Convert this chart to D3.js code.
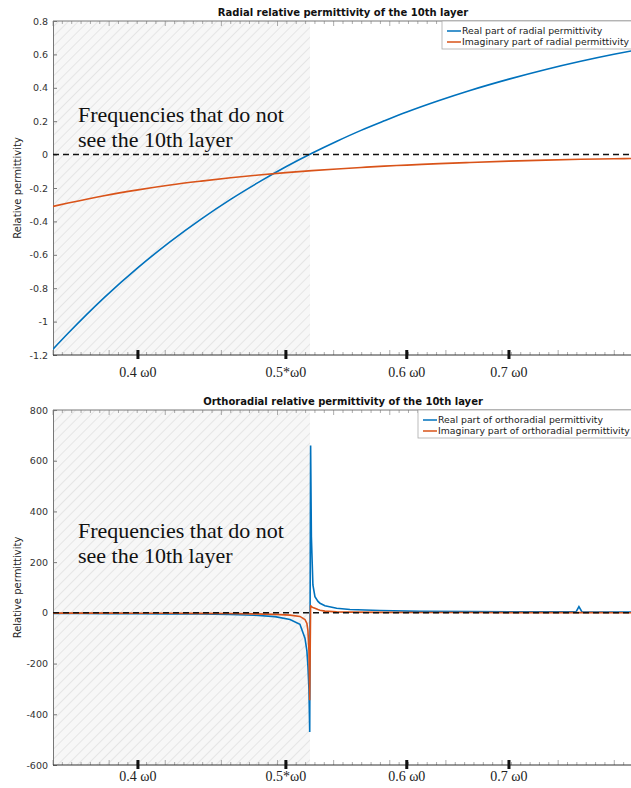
<!DOCTYPE html>
<html>
<head>
<meta charset="utf-8">
<script src="https://cdn.jsdelivr.net/npm/d3@7"></script>
<style>
body{margin:0;background:#fff;}
svg{display:block;}
</style>
</head>
<body>
<svg id="chart" width="631" height="788"></svg>
<script>
// frequencies (in units of w0) and values
var radFreq=[0.3519,0.36,0.38,0.40,0.42,0.44,0.46,0.48,0.50,0.52,0.54,0.56,0.58,0.60,0.63,0.66,0.70,0.74,0.78,0.82,0.844];
var radReal=[-1.165,-1.070,-0.858,-0.677,-0.521,-0.386,-0.268,-0.165,-0.073,0.008,0.080,0.145,0.202,0.255,0.324,0.384,0.452,0.510,0.559,0.601,0.623];
var radImag=[-0.310,-0.290,-0.246,-0.211,-0.182,-0.159,-0.139,-0.122,-0.108,-0.096,-0.086,-0.077,-0.069,-0.063,-0.054,-0.047,-0.039,-0.033,-0.028,-0.025,-0.023];

var orthoFreq=[0.3519,0.3665,0.3835,0.4000,0.4198,0.4392,0.4595,0.4772,0.4918,0.5031,0.5107,0.5146,0.5161,0.5169,0.5177,0.5183,0.5190,0.5196,0.5208,0.5224,0.5248,0.5264,0.5303,0.5398,0.5507,0.5762,0.6120,0.6600,0.7117,0.7675,0.7745,0.7779,0.7815,0.8030,0.8440];
var orthoReal=[-2.4,-2.6,-2.9,-3.3,-3.9,-4.8,-6.4,-9.7,-15,-26,-45,-100,-150,-210,-300,-470,660,300,110,64,45,38,28,18,13,9,6,5,4.2,4,4,25,4,3.5,3];
var orthoImag=[-1,-1.1,-1.2,-1.4,-1.7,-2.1,-2.8,-4,-6,-9,-14,-26,-42,-70,-150,-345,30,24,21,18,13,10,7,4,3,2,1.5,1.2,1,1,1,1,1,0.8,0.7];

var cutoff=0.5185; // below this the 10th layer is not seen
var xTickVals=[0.4,0.5,0.6,0.7];
var xTickLabels=["0.4 \u03c90","0.5*\u03c90","0.6 \u03c90","0.7 \u03c90"];
var radYTicks=[0.8,0.6,0.4,0.2,0,-0.2,-0.4,-0.6,-0.8,-1,-1.2];
var orthoYTicks=[800,600,400,200,0,-200,-400,-600];

var blue="#0072BD", orange="#D95319";
var svg=d3.select("#chart");

var defs=svg.append("defs");
var pat=defs.append("pattern")
  .attr("id","hatch")
  .attr("patternUnits","userSpaceOnUse")
  .attr("width",7).attr("height",7)
  .attr("patternTransform","rotate(45)");
pat.append("rect").attr("width",7).attr("height",7).attr("fill","#f7f7f7");
pat.append("line").attr("x1",0).attr("y1",0).attr("x2",0).attr("y2",7)
  .attr("stroke","#d9d9d9").attr("stroke-width",1.2);

var x=d3.scaleLog().domain([0.3519,0.844]).range([53,633]);

function drawPanel(opt){
  var y=d3.scaleLinear().domain(opt.ydomain).range([opt.bottom,opt.top]);
  var g=svg.append("g");
  var clipId="clip"+opt.id;
  defs.append("clipPath").attr("id",clipId)
    .append("rect").attr("x",x.range()[0]).attr("y",opt.top)
    .attr("width",x.range()[1]-x.range()[0]).attr("height",opt.bottom-opt.top);

  // hatched region
  g.append("rect")
    .attr("x",x.range()[0]).attr("y",opt.top)
    .attr("width",x(cutoff)-x.range()[0]).attr("height",opt.bottom-opt.top)
    .attr("fill","url(#hatch)");

  // minor ticks, evenly spaced along the box
  var u=d3.scaleLinear().domain([0,1]).range(x.range());
  var minor=d3.range(0,1,1/62);
  [opt.bottom,opt.top].forEach(function(yy,k){
    g.selectAll(null).data(minor).join("line")
      .attr("x1",d=>u(d)).attr("x2",d=>u(d))
      .attr("y1",yy).attr("y2",d=>yy+(k?1:-1)*((Math.round(d*62)%6==0)?5:3))
      .attr("stroke","#888").attr("stroke-width",0.7);
  });

  // y axis
  var yAxis=g.append("g").attr("transform","translate("+x.range()[0]+",0)")
    .call(d3.axisLeft(y).tickValues(opt.yticks).tickSize(-4).tickPadding(5).tickFormat(d=>String(d)));
  yAxis.select(".domain").attr("stroke","#777");
  yAxis.selectAll(".tick line").attr("stroke","#777");
  yAxis.selectAll("text").attr("fill","#333").style("font-family","DejaVu Sans").style("font-size","9.5px");

  // box lines
  g.append("line").attr("x1",x.range()[0]).attr("x2",x.range()[1]).attr("y1",opt.top).attr("y2",opt.top)
    .attr("stroke","#777");
  g.append("line").attr("x1",x.range()[0]).attr("x2",x.range()[1]).attr("y1",opt.bottom).attr("y2",opt.bottom)
    .attr("stroke","#333");

  // curves
  var pts=opt.freq.map((f,i)=>({f:f,re:opt.real[i],im:opt.imag[i]}));
  var lineRe=d3.line().x(d=>x(d.f)).y(d=>y(d.re));
  var lineIm=d3.line().x(d=>x(d.f)).y(d=>y(d.im));
  if(opt.smooth){ lineRe.curve(d3.curveMonotoneX); lineIm.curve(d3.curveMonotoneX); }
  var cg=g.append("g").attr("clip-path","url(#"+clipId+")");
  cg.append("path").datum(pts).attr("d",lineRe).attr("fill","none").attr("stroke",blue).attr("stroke-width",1.6);
  cg.append("path").datum(pts).attr("d",lineIm).attr("fill","none").attr("stroke",orange).attr("stroke-width",1.6);
  cg.append("line").attr("x1",x.range()[0]).attr("x2",x.range()[1]).attr("y1",y(0)).attr("y2",y(0))
    .attr("stroke","#111").attr("stroke-width",1.5).attr("stroke-dasharray","6,4");

  // hand-placed frequency ticks and labels
  g.selectAll(null).data(xTickVals).join("rect")
    .attr("x",d=>x(d)-1.5).attr("y",opt.bottom-5).attr("width",3).attr("height",9).attr("fill","#111");
  g.selectAll(null).data(xTickVals).join("text")
    .attr("x",d=>x(d)).attr("y",opt.bottom+opt.labelGap)
    .attr("text-anchor","middle")
    .style("font-family","Liberation Serif").style("font-size","14px").attr("fill","#222")
    .text((d,i)=>xTickLabels[i]);

  // title
  g.append("text").attr("x",(x.range()[0]+x.range()[1])/2).attr("y",opt.top-5)
    .attr("text-anchor","middle")
    .style("font-family","DejaVu Sans").style("font-weight","bold").style("font-size","10px")
    .attr("fill","#111").text(opt.title);

  // y label
  g.append("text").attr("transform","translate(21,"+((opt.top+opt.bottom)/2)+") rotate(-90)")
    .attr("text-anchor","middle")
    .style("font-family","DejaVu Sans").style("font-size","10px").attr("fill","#222")
    .text("Relative permittivity");

  // annotation
  var ann=g.append("text").style("font-family","Liberation Serif").style("font-size","22px").attr("fill","#111");
  ann.append("tspan").attr("x",78).attr("y",opt.annY).text("Frequencies that do not");
  ann.append("tspan").attr("x",78).attr("y",opt.annY+25).text("see the 10th layer");

  // legend
  var lg=g.append("g").attr("transform","translate("+opt.legX+","+opt.top+")");
  lg.append("rect").attr("x",0).attr("y",0).attr("width",x.range()[1]-opt.legX).attr("height",28)
    .attr("fill","#fff").attr("stroke","#aaa").attr("stroke-width",0.8);
  opt.legend.forEach(function(t,i){
    lg.append("line").attr("x1",5).attr("x2",19).attr("y1",10+i*11).attr("y2",10+i*11)
      .attr("stroke",i?orange:blue).attr("stroke-width",1.5);
    lg.append("text").attr("x",20).attr("y",13+i*11)
      .style("font-family","DejaVu Sans").style("font-size","9.3px").attr("fill","#222").text(t);
  });
}

drawPanel({id:1,top:21,bottom:355,ydomain:[-1.2,0.8],yticks:radYTicks,
  freq:radFreq,real:radReal,imag:radImag,smooth:true,labelGap:22,
  title:"Radial relative permittivity of the 10th layer",annY:122,legX:442,
  legend:["Real part of radial permittivity","Imaginary part of radial permittivity"]});

drawPanel({id:2,top:410,bottom:765,ydomain:[-600,800],yticks:orthoYTicks,
  freq:orthoFreq,real:orthoReal,imag:orthoImag,smooth:false,labelGap:16,
  title:"Orthoradial relative permittivity of the 10th layer",annY:538,legX:418,
  legend:["Real part of orthoradial permittivity","Imaginary part of orthoradial permittivity"]});
</script>
</body>
</html>
